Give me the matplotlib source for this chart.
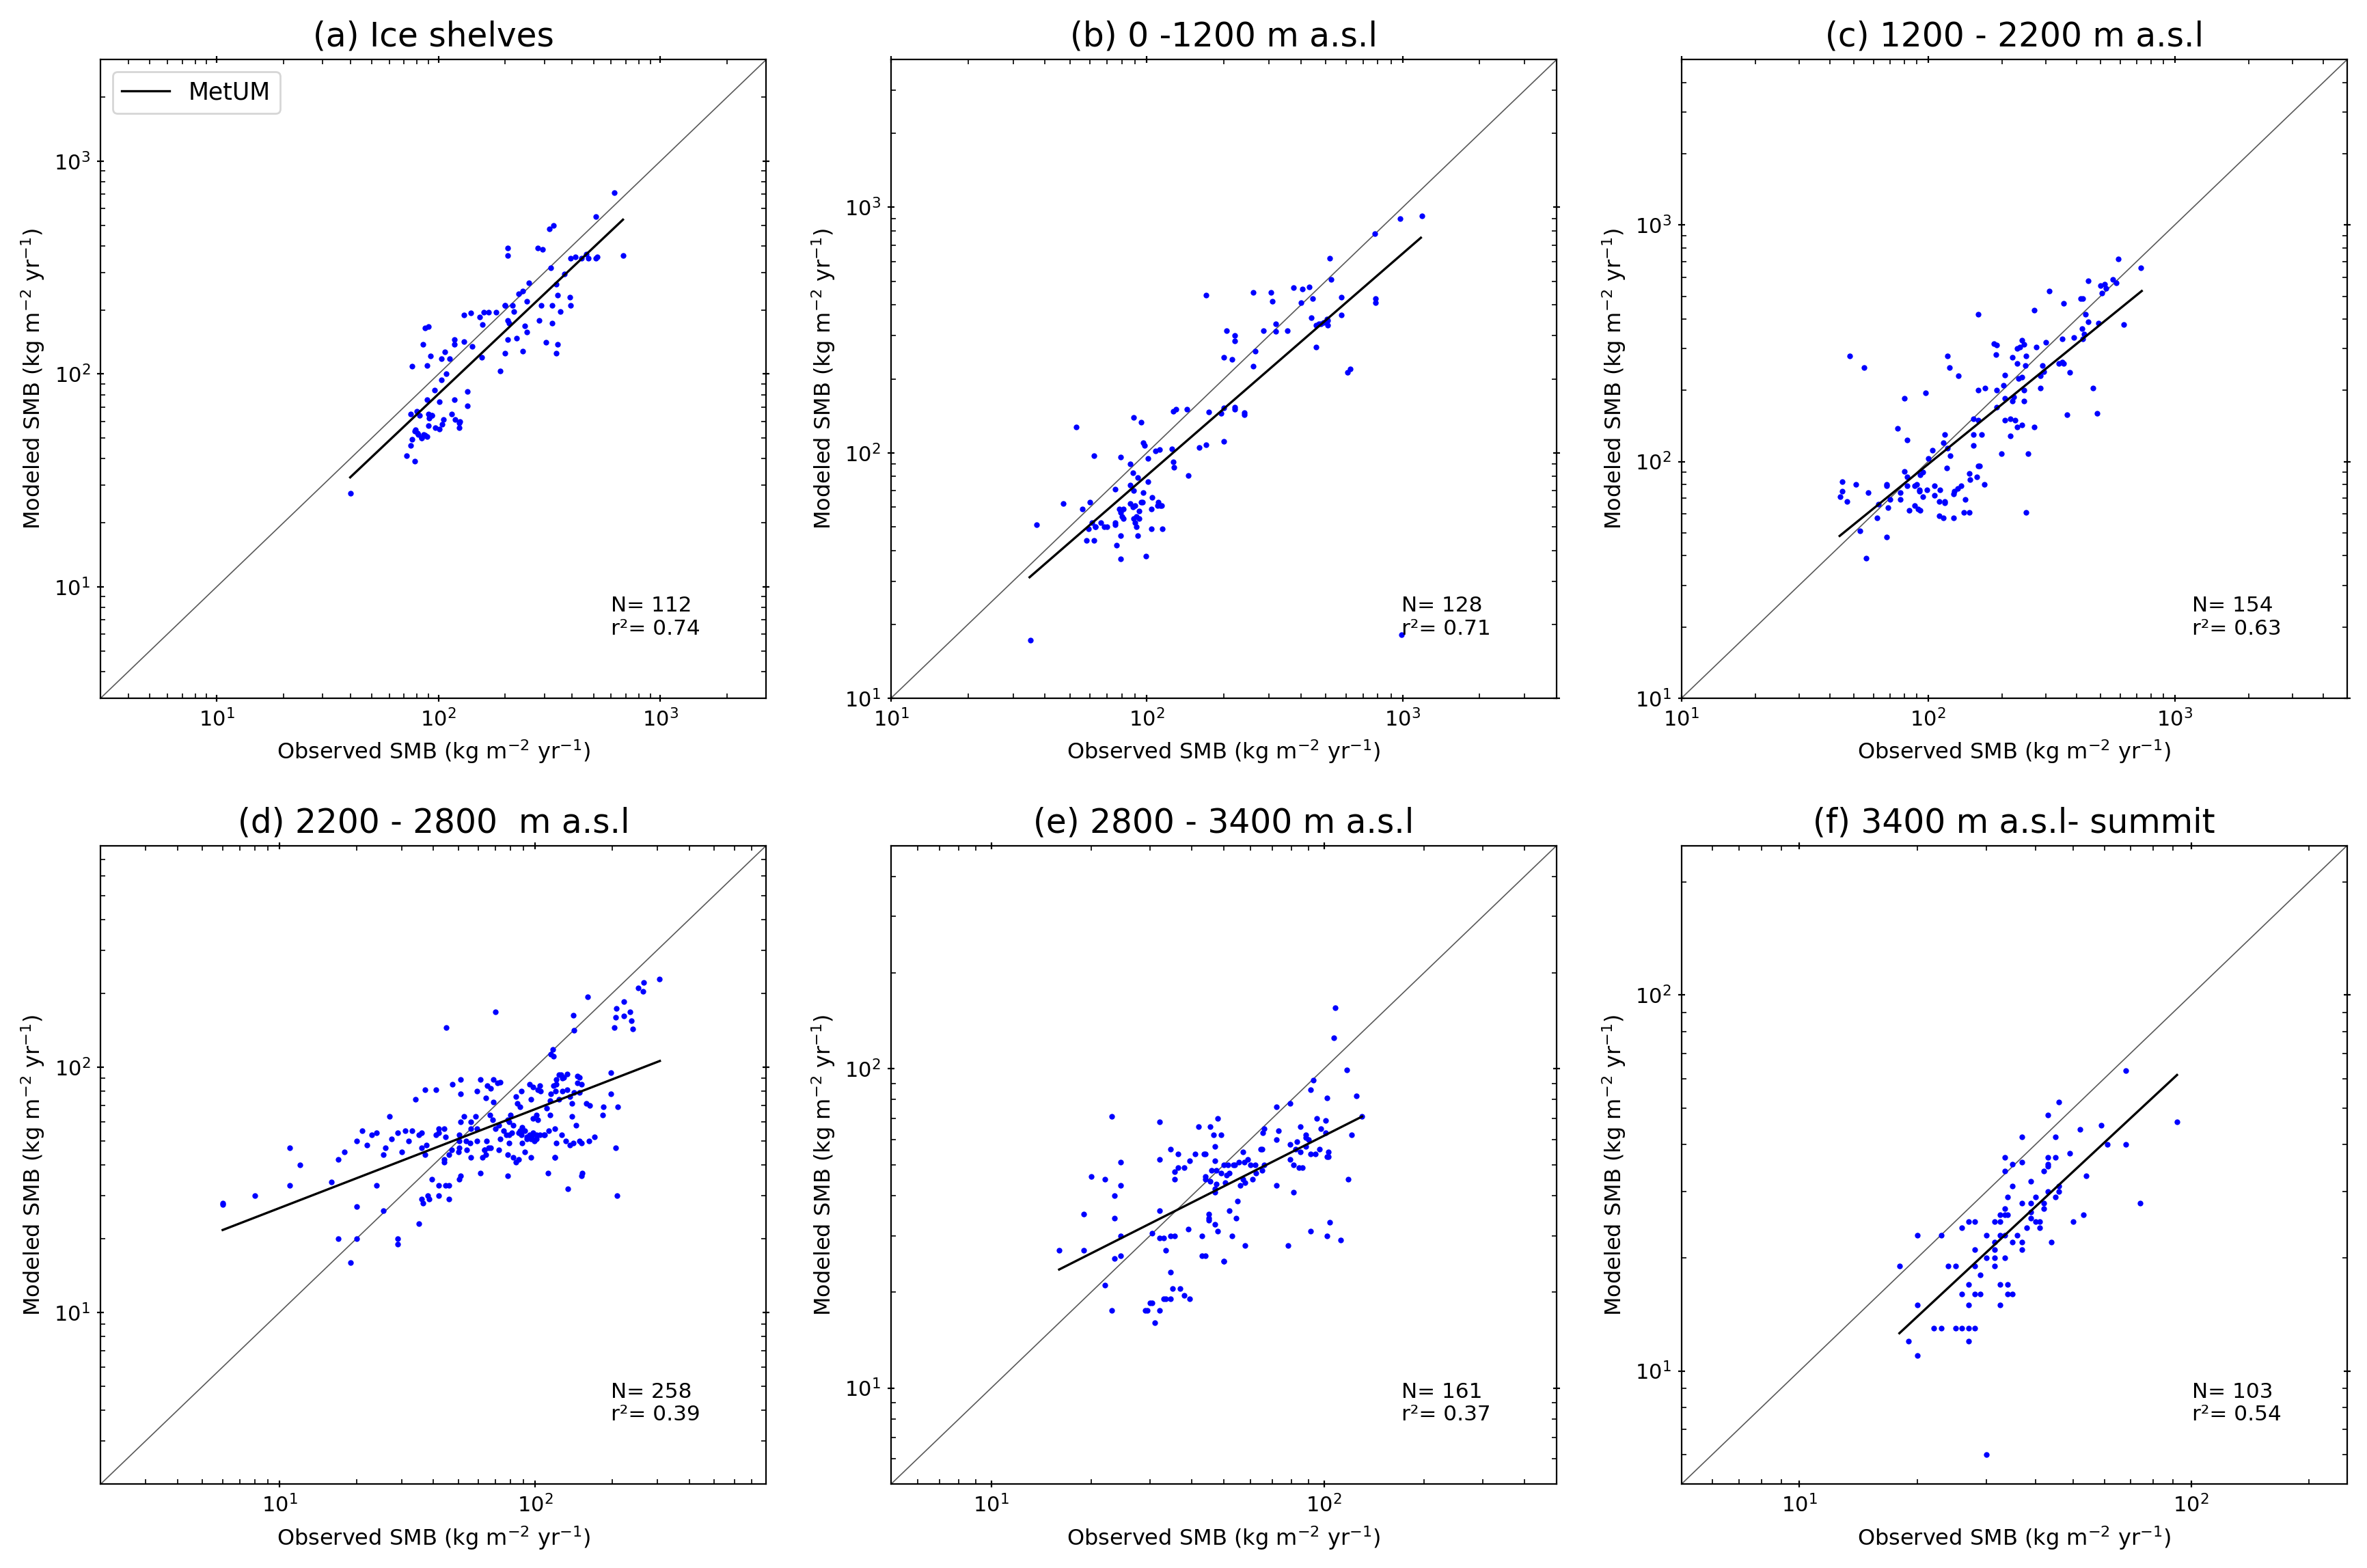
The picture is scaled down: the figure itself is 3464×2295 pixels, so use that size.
import matplotlib.pyplot as plt
import numpy as np

# panel titles, stats and axis ranges
titles = ['(a) Ice shelves', '(b) 0 -1200 m a.s.l', '(c) 1200 - 2200 m a.s.l',
          '(d) 2200 - 2800  m a.s.l', '(e) 2800 - 3400 m a.s.l', '(f) 3400 m a.s.l- summit']
n_points = [112, 128, 154, 258, 161, 103]
r_squared = ['0.74', '0.71', '0.63', '0.39', '0.37', '0.54']
limits = [(3, 3000), (10, 4000), (10, 5000), (2, 800), (5, 500), (5, 250)]

# (a) ice shelves
obs_a = [40, 72, 78, 75, 76, 78.5, 80.5, 84, 87,
         620, 510, 330, 315, 205, 205, 280, 295, 320, 680, 395, 415, 440, 465, 475, 510, 520,
         370, 340, 345, 390, 395, 355, 255, 240, 230, 250, 290, 325, 200, 200, 215, 218,
         160, 168, 182, 130, 140, 153, 158, 205, 208, 245, 285, 325, 250, 240, 205, 225, 305, 345,
         340, 200, 190, 157, 142, 130, 118, 118, 112, 103, 107, 90, 87, 85, 92, 89, 76, 108, 103,
         96, 135, 118, 135, 89, 101, 75, 80, 82, 90, 93, 91, 93, 115, 119, 124, 125, 124, 105, 104,
         90, 97, 101, 78, 81, 86, 89, 84]
mod_a = [27.5, 41.4, 39, 46, 49.5, 54.6, 52.8, 50, 51.7,
         710, 550, 500, 480, 390, 360, 390, 385, 315, 360, 350, 355, 350, 365, 350, 350, 355,
         295, 265, 235, 230, 210, 197, 268, 245, 238, 220, 210, 210, 210, 210, 210, 197,
         195, 195, 195, 190, 193, 185, 171, 178, 173, 168, 178, 173, 158, 128, 145, 147, 141, 138,
         125, 125, 103, 120, 135, 142, 145, 138, 118, 118, 127, 167, 165, 138, 122, 110, 109, 100, 94,
         84, 83, 76, 71, 76, 74, 65, 67, 64, 65, 64, 62, 64, 65, 61, 59, 60, 56, 61, 58,
         57, 56, 55, 54, 52, 52, 51, 50]
fit_a = ([40, 678], [32.7, 531])

# (b) 0 - 1200 m
obs_b = [35, 990, 1190, 975, 780, 785, 785, 520, 525, 575, 575, 610, 625,
         260, 305, 310, 375, 405, 430, 400, 445,
         440, 460, 480, 490, 505, 510, 510, 460, 470,
         285, 320, 320, 355, 265, 260,
         170, 205, 220, 220, 200, 215,
         127, 130, 143, 175, 195, 200, 220, 220, 240, 240,
         200, 170, 160, 145, 125, 127, 128, 108, 112, 97, 98, 89, 95,
         53, 62, 79, 86, 88, 101, 92, 101, 86, 75, 89, 97, 105, 95, 96,
         111, 113, 110, 114, 104, 86, 90, 88, 79, 81, 78,
         93, 91, 93, 89, 90, 91, 80, 81, 75, 75, 66, 70, 68, 61, 63, 63, 59, 104, 115,
         79, 92, 58, 62, 76, 79, 99, 56, 60, 47, 37]
mod_b = [17.2, 18.1, 925, 900, 780, 410, 425, 620, 510, 430, 365, 212, 220,
         450, 450, 415, 470, 465, 475, 410, 425,
         355, 330, 335, 340, 350, 330, 345, 270, 335,
         315, 313, 335, 315, 260, 225,
         440, 315, 300, 285, 245, 240,
         148, 150, 150, 147, 145, 152, 153, 150, 146, 143,
         111, 108, 105, 81, 104, 92, 87, 102, 103, 110, 107, 139, 133,
         127, 97, 96, 90, 83, 95, 79, 76, 74, 71, 70, 69, 66, 63, 63,
         63, 61, 61, 61, 59, 62, 61, 60, 57, 59, 59,
         58, 55, 54, 54, 52, 50, 55, 54, 52, 51, 52, 50, 50, 52, 50, 50, 49, 49, 49,
         46, 46, 44, 44, 42, 37, 38, 59, 63, 62, 51]
fit_b = ([34.8, 1178], [31.1, 752])

# (c) 1200 - 2200 m
obs_c = [590, 730, 560, 580, 520, 500, 525, 505, 445, 310, 415, 425, 355, 270,
         435, 445, 430, 425, 420, 490, 620, 390, 350,
         160, 240, 235, 245, 275, 300, 230, 250, 248, 220, 230, 185, 190, 188,
         290, 295, 285, 340, 350, 355, 375, 465, 485, 365, 285, 232, 240, 245, 205, 202, 190, 170, 160,
         222, 220, 245, 205, 190, 153, 160, 205, 215, 225, 230, 215, 240, 270, 165, 153, 153,
         117, 115, 120, 123, 104, 100, 198, 255, 162, 98, 122, 120, 133, 48, 55, 80, 75, 82, 119,
         80, 82, 90, 95, 93, 45, 45, 51, 57, 68, 68, 77, 82, 88, 92, 99, 92, 95, 106, 106, 112,
         128, 127, 132, 136, 147, 148, 158, 160, 169, 111, 117, 117, 141, 77, 70, 69,
         88, 91, 84, 93, 111, 115, 127, 147, 140, 250, 62, 63, 44, 47, 53, 68, 56]
mod_c = [720, 660, 590, 570, 560, 555, 540, 515, 580, 525, 490, 490, 465, 435,
         420, 390, 345, 330, 365, 385, 380, 335, 330,
         420, 325, 305, 312, 305, 320, 300, 280, 255, 275, 260, 315, 310, 283,
         255, 240, 230, 260, 263, 260, 238, 205, 160, 158, 205, 225, 228, 200, 232, 210, 200, 205, 200,
         188, 180, 180, 185, 170, 152, 150, 150, 152, 150, 140, 128, 143, 140, 130, 130, 117,
         130, 120, 114, 106, 112, 103, 108, 108, 96, 195, 250, 280, 230, 280, 250, 185, 138, 123, 94,
         91, 86, 80, 90, 88, 82, 75, 80, 74, 80, 79, 74, 79, 79, 76, 76, 75, 71, 79, 72, 76,
         75, 73, 77, 79, 89, 84, 86, 96, 80, 68, 67, 68, 69, 69, 69, 64,
         65, 63, 62, 62, 59, 58, 58, 61, 61, 61, 58, 66, 71, 68, 51, 48, 39]
fit_c = ([43.8, 735], [48.5, 526])

# (d) 2200 - 2800 m
obs_d = [6, 6, 8, 11, 11, 12, 16, 17, 18, 20, 21, 22, 23, 24, 25.5, 26, 27, 27.5, 29, 31, 33, 35,
         24, 25.5, 17, 20, 20, 19, 29, 29, 35,
         30, 32, 34, 37, 41, 36, 41, 42, 42, 44.5, 44, 36, 37.5, 37,
         39.5, 38, 36, 38.5, 36.5, 42, 44.5, 42, 46, 46, 44, 44, 46, 47,
         45, 70, 51, 51, 47.5, 51, 50.5, 50.5, 50, 50.5, 51, 50.5,
         52.5, 56, 58.5, 59, 61, 65, 64, 67, 68.5, 71, 73, 68.5, 66.5, 68,
         56, 59, 59, 64.5, 65.5, 63.5, 67, 62, 64, 56, 54, 55.5, 53.5,
         61, 63.5, 70, 72, 75, 79, 77, 79, 78, 82, 81, 79, 78, 72, 73, 82, 84, 86, 78,
         86, 87, 88, 89, 91, 93, 95, 93, 97, 98, 101, 104, 89, 96, 99, 101, 96, 91, 80, 87, 85, 84, 88,
         95, 98, 102, 104, 96, 101, 98, 102, 109, 113, 108, 119, 127, 121, 112, 119,
         105, 111, 114, 114, 115, 120, 118, 121, 124, 126, 128, 129, 133, 115, 117, 118, 121, 128,
         133, 137, 142, 149, 139, 124, 146, 146, 149, 152, 158, 163, 139, 144, 141, 142, 160,
         132, 137, 141, 149, 152, 162, 170, 183, 185, 134, 153, 152, 206, 209, 119,
         197, 197, 210, 204, 206, 207, 222, 222, 235, 238, 241, 253, 266, 264, 306]
mod_d = [28, 27.5, 30, 47, 33, 40, 34, 42, 45, 50, 55, 48, 53, 54, 44, 47, 63, 51, 54, 55, 55, 53,
         33, 26, 20, 20, 27, 16, 20, 19, 23,
         45, 50, 74, 81, 81, 54, 53, 56, 54, 52, 56, 47, 48, 44,
         35, 30, 29, 29, 28, 33, 33, 30, 29, 33, 42, 41, 44, 46,
         145, 168, 89, 78, 85, 60, 53, 50, 45, 47, 36, 35,
         63, 60, 63, 80, 89, 84, 75, 82, 89, 86, 87, 72, 64, 61,
         56, 56, 50, 50, 47, 46, 47, 43, 44, 43, 46, 49, 50,
         37, 46, 56, 58, 55, 53, 53, 60, 61, 58, 54, 49, 44, 46, 51, 43, 41, 42, 36,
         54, 55, 53, 57, 55, 52, 53, 51, 52, 54, 51, 53, 49, 51, 50, 53, 43, 45, 64, 69, 71, 76, 80,
         85, 83, 81, 84, 74, 64, 62, 61, 53, 55, 53, 56, 53, 49, 37, 43,
         80, 68, 64, 73, 78, 80, 84, 89, 93, 93, 90, 91, 94, 113, 118, 111, 85, 80,
         81, 76, 79, 79, 71, 74, 86, 92, 91, 85, 71, 70, 63, 58, 163, 141, 193,
         50, 48, 49, 50, 49, 50, 52, 64, 69, 32, 37, 36, 47, 30, 43,
         95, 78, 69, 145, 160, 174, 162, 185, 168, 155, 143, 210, 222, 203, 229]
fit_d = ([6, 307], [21.7, 106])

# (e) 2800 - 3400 m
obs_e = [108, 107, 117, 125, 93, 91, 102, 130, 121, 95, 101, 98, 101, 79, 72,
         85, 88, 88, 90, 91, 94, 97, 103, 102, 103, 83, 82, 79, 79, 81, 84, 86, 88, 85,
         81, 78, 91, 102, 104, 112, 118,
         73, 72, 66, 65.5, 64.5, 65, 66, 65, 62.5, 61, 62, 60, 72,
         57, 59, 57.5, 55.5, 54, 57, 58, 56, 58, 55, 54.5, 52, 53, 50,
         53.5, 52, 51.5, 51, 50.5, 50, 49, 47.5, 47.5, 47, 49, 46.5, 45.5, 48,
         47, 44, 43.5, 46, 45.5, 47, 47, 45, 45, 45, 47, 48, 43, 43, 44, 50,
         44, 44, 42, 41, 39.5, 39, 38, 36.5, 36.5, 34.5, 35.5, 35.5, 34.5, 35.5, 35, 34.5, 34.5,
         37, 38, 39.5, 33, 33.5, 33, 32, 32, 32, 32, 30.5, 30, 29, 29.5, 30.5, 31, 32, 33.5,
         23.5, 23.5, 23.5, 24.5, 24.5, 24.5, 24.5, 23, 23, 22, 22, 20, 19, 19, 16]
mod_e = [155, 125, 99, 82, 92, 86, 81, 71, 62, 70, 69, 65, 63, 78, 76,
         66, 61, 62, 60, 54, 54, 56, 55, 53, 53, 59, 56, 58, 52, 50, 49, 49, 57, 55,
         41, 28, 31, 30, 33, 29, 45,
         64, 60, 65, 63, 56, 56, 50, 48, 47, 45, 50, 50, 43,
         55, 52, 51, 51, 50, 45, 44, 43, 28, 38.5, 34, 36, 30, 25,
         50, 47, 50, 46.5, 44, 50, 47, 43.5, 48, 51.5, 62, 62, 66, 70,
         57, 54, 54, 48, 44.5, 42, 41, 35, 34, 33.5, 32.5, 31, 30, 26, 26, 25,
         45, 46, 66, 54, 51.5, 31.5, 49, 54, 49, 56, 47.5, 45, 30, 30, 20.5, 23, 19,
         20.5, 19.5, 19, 19, 27, 29.5, 29.5, 36, 68, 52, 30.5, 18.5, 17.5, 17.5, 18.5, 16, 17.5, 19,
         40, 34, 25.5, 30, 26, 51, 43, 71, 17.5, 45, 21, 46, 35, 27, 27]
fit_e = ([16, 130], [23.5, 70.8])

# (f) 3400 m - summit
obs_f = [68, 92, 74, 68, 61, 59, 52, 54, 53, 50, 49, 46, 43, 45, 45, 43, 43, 43, 42,
         46, 46, 45, 43, 40, 42, 42, 39, 39, 39, 39, 40, 41, 41, 44, 38,
         37, 37, 37, 37, 37, 35, 35, 33.5, 33.5, 34, 33.5, 34, 32.5, 33.5, 32.5, 31.5, 32.5, 31.5,
         33.5, 33.5, 35, 36,
         30, 30, 31.5, 31.5, 31.5, 29, 28, 28, 28, 29, 32.5, 34, 34, 35, 32.5,
         27, 28, 26, 27, 27, 26, 25, 24, 23, 20,
         28, 27, 26, 25, 23, 22, 27, 19, 20, 20, 18, 30]
mod_f = [63, 46, 28, 40, 40, 45, 44, 33, 26, 25, 38, 52, 48, 42, 37, 37, 35.5, 35, 34,
         31, 30, 29, 30, 29, 28, 27, 32, 28, 26.5, 25.5, 25, 25, 24, 22, 24,
         42, 36, 28, 22, 21, 31, 35.5, 37, 34, 29, 27, 26, 26, 26, 25, 25, 23, 22,
         23, 20, 22, 23,
         23, 20, 21, 20, 19, 18, 21, 19, 16, 16, 17, 17, 16, 16, 15,
         25, 25, 24, 17, 15, 16, 19, 19, 23, 23,
         13, 13, 13, 13, 13, 13, 12, 12, 11, 15, 19, 6]
fit_f = ([18, 92], [12.6, 61.3])

observed = [obs_a, obs_b, obs_c, obs_d, obs_e, obs_f]
modeled = [mod_a, mod_b, mod_c, mod_d, mod_e, mod_f]
fits = [fit_a, fit_b, fit_c, fit_d, fit_e, fit_f]

fig, axes = plt.subplots(2, 3, figsize=(17.32, 11.475), dpi=200)
plt.subplots_adjust(left=0.0425, right=0.9916, bottom=0.0535, top=0.962,
                    wspace=0.1874, hspace=0.2307)

for i, ax in enumerate(axes.flat):
    lo, hi = limits[i]
    # 1:1 line
    ax.plot([lo, hi], [lo, hi], color='0.35', lw=0.6)
    ax.scatter(observed[i], modeled[i], s=9, c='blue', linewidths=0, zorder=3)
    ax.plot(fits[i][0], fits[i][1], 'k-', lw=1.2, label='MetUM', zorder=4)
    ax.set_xscale('log')
    ax.set_yscale('log')
    ax.set_xlim(lo, hi)
    ax.set_ylim(lo, hi)
    ax.tick_params(which='major', direction='inout', length=3.8, top=True, right=True,
                   labelsize=11)
    ax.tick_params(which='minor', direction='in', length=2.5, top=True, right=True)
    ax.set_xlabel('Observed SMB (kg m$^{-2}$ yr$^{-1}$)', fontsize=11.5)
    ax.set_ylabel('Modeled SMB (kg m$^{-2}$ yr$^{-1}$)', fontsize=11.5)
    ax.set_title(titles[i], fontsize=17.5, pad=7)
    ax.text(0.767, 0.093, 'N= %d\nr\u00b2= %s' % (n_points[i], r_squared[i]),
            transform=ax.transAxes, fontsize=11.2, va='bottom')
    if i == 0:
        ax.legend(loc='upper left', fontsize=12.5)

plt.savefig('out.png', dpi=200)
